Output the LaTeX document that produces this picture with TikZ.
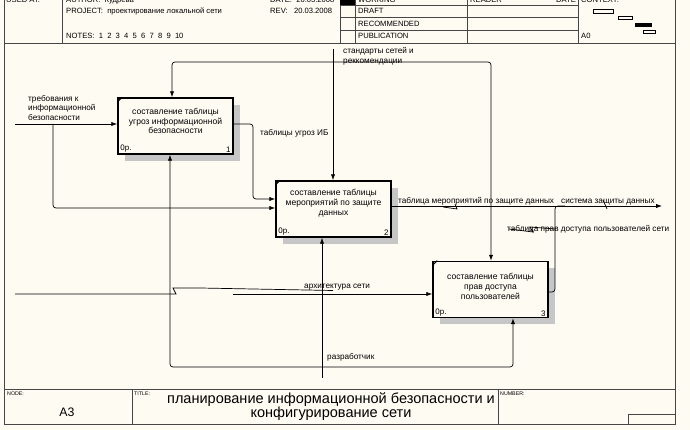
\documentclass[tikz,border=0pt]{standalone}
\usepackage{fontspec}
\setmainfont{Liberation Sans}
\usetikzlibrary{arrows.meta,calc,positioning,shadows}
\definecolor{paper}{RGB}{253,251,242}
\definecolor{frameline}{RGB}{70,70,70}
\newcommand{\pxl}{0.03cm}

\tikzset{
  actbox/.style={draw,line width=1.4pt,fill=paper,minimum width={115*\pxl},minimum height={56*\pxl},inner sep=0pt,
    drop shadow={shadow xshift=0.2cm,shadow yshift=-0.2cm,fill=gray!45,opacity=1}},
  boxtxt/.style={font=\fontsize{7.3}{8.4}\selectfont,align=center,inner sep=0pt},
  tag/.style={font=\fontsize{6.8}{8}\selectfont,inner sep=0pt},
  lbl/.style={font=\fontsize{7}{8.2}\selectfont,inner sep=0pt,align=left},
  hdr/.style={font=\fontsize{6.5}{7.5}\selectfont,inner sep=0pt,anchor=base west},
  tinyhd/.style={font=\fontsize{4.5}{5}\selectfont,inner sep=0pt,anchor=north west},
  flow/.style={line width=0.6pt,-{Latex[length=5pt,width=3.6pt]}},
  wire/.style={line width=0.6pt},
  frame/.style={line width=0.7pt,draw=frameline},
}

\begin{document}
\begin{tikzpicture}[x=\pxl,y=-\pxl]
  \useasboundingbox (0,0) rectangle (690,430);
  \clip (0,0) rectangle (690,430);
  \fill[paper] (0,0) rectangle (690,430);
  % frame and header grid
  \draw[frame] (4,-2) -- (4,424) -- (675,424) -- (675,-2);
  \draw[frame] (4,43) -- (675,43);
  \draw[frame] (4,389) -- (675,389);
  \foreach \xx in {62,340,355,467,578} \draw[frame] (\xx,-2) -- (\xx,43);
  \foreach \yy in {5,17,30} \draw[frame] (340,\yy) -- (578,\yy);
  \fill (340,-2) rectangle (355,5);
  \node[hdr] (usedat) at (6,2.5) {USED AT:};
  \node[hdr] (author) at (66,2.5) {AUTHOR: \ Кудрева};
  \node[hdr] (date) at (270,2.5) {DATE: \ 20.03.2008};
  \node[hdr] (working) at (358,2.5) {WORKING};
  \node[hdr] (reader) at (470,2.5) {READER};
  \node[hdr] (rdate) at (556,2.5) {DATE};
  \node[hdr] (context) at (581,2.5) {CONTEXT:};
  \node[hdr] (project) at (66,14) {PROJECT: \ проектирование локальной сети};
  \node[hdr] (rev) at (270,14) {REV: \ \ 20.03.2008};
  \node[hdr] (notes) at (66,39) {NOTES: \ 1 \ 2 \ 3 \ 4 \ 5 \ 6 \ 7 \ 8 \ 9 \ 10};
  \node[hdr] (draft) at (358,14) {DRAFT};
  \node[hdr] (recom) at (358,27) {RECOMMENDED};
  \node[hdr] (publ) at (358,39) {PUBLICATION};
  \node[hdr] (a0) at (581,39) {A0};
  % context thumbnails
  \draw[wire] (593,9) rectangle (613,13);
  \draw[wire] (618,16) rectangle (632,19);
  \fill (635,23) rectangle (652,27);
  \draw[wire] (643,30) rectangle (655,33);

  % activity boxes
  \node[actbox] (b1) at (175.5,126) {};
  \node[actbox] (b2) at (333.5,209) {};
  \node[actbox] (b3) at (490.5,289.5) {};
  \node[boxtxt] (t1) at ($(b1.center)+(0,-5)$) {составление таблицы\\угроз информационной\\безопасности};
  \node[boxtxt] (t2) at ($(b2.center)+(0,-5.5)$) {составление таблицы\\мероприятий по защите\\данных};
  \node[boxtxt] (t3) at ($(b3.center)+(0,-3)$) {составление таблицы\\прав доступа\\пользователей};
  \foreach \bx/\nn in {b1/1,b2/2,b3/3}{
    \draw[line width=0.8pt] ($(\bx.north west)+(0,5)$) -- ($(\bx.north west)+(5,0)$);
    \node[tag,anchor=south west] (\bx-rev) at ($(\bx.south west)+(3,-2)$) {0р.};
    \node[tag,anchor=south east] (\bx-num) at ($(\bx.south east)+(-3,-2)$) {\nn};
  }

  % inputs
  \coordinate (req) at (15,124);
  \draw[flow] (req) -- (req -| b1.west);
  \draw[flow,rounded corners=2.5pt] (53,124) -- (53,208) -- (b2.west |- 0,208);
  \node[lbl,anchor=north west] (reqlbl) at (28,95) {требования к\\информационной\\безопасности};
  \coordinate (arch) at (15,294);
  \draw[wire] (arch) -- (176,294) -- (173,288) -- (200,288) -- (333,290.5);
  \draw[flow] (233,294) -- (b3.west |- 0,294);
  \node[lbl,anchor=base west] (archlbl) at (304,288.5) {архитектура сети};

  % threat table 1 -> 2
  \draw[flow,rounded corners=2.5pt] (b1.east |- 0,124) -- (253,124) -- (253,199) -- (b2.west |- 0,199);
  \node[lbl,anchor=west] (thrlbl) at (260,133) {таблицы угроз ИБ};

  % controls
  \coordinate (std) at (333,49);
  \draw[flow] (std) -- (std |- b2.north);
  \draw[flow,rounded corners=2.5pt] (333,62) -| (b1.north -| 172,0);
  \draw[flow,rounded corners=2.5pt] (333,62) -| (b3.north -| 491,0);
  \node[lbl,anchor=north west] (stdlbl) at (343,47.5) {стандарты сетей и\\реккомендации};

  % outputs
  \coordinate (sysout) at (662,206);
  \draw[flow] (b2.east |- 0,206) -- (sysout);
  \draw[wire,rounded corners=2.5pt] (b3.east |- 0,292) -- (555,292) -- (555,206) -- (565,206);
  \node[lbl,anchor=base west] (meslbl) at (398,204) {таблица мероприятий по защите данных};
  \node[lbl,anchor=base west] (syslbl) at (561,204) {система защиты данных};
  \node[lbl,anchor=base west] (acclbl) at (507,232) {таблица прав доступа пользователей сети};
  % squiggles
  \draw[wire] (443,207) -- (457,209) -- (455,204);
  \draw[wire] (603,200) -- (607,209);
  \draw[wire] (509,229) -- (533,232) -- (530,227) -- (555,229);

  % mechanism
  \coordinate (dev) at (322,378);
  \draw[flow] (dev) -- (dev |- b2.south);
  \draw[flow,rounded corners=2.5pt] (322,367) -| (b1.south -| 170,0);
  \draw[flow,rounded corners=2.5pt] (322,367) -| (b3.south -| 513,0);
  \node[lbl,anchor=west] (devlbl) at (327,357) {разработчик};

  % footer
  \draw[frame] (132,389) -- (132,424);
  \draw[frame] (498,389) -- (498,424);
  \draw[frame] (628,424) |- (675,414);
  \node[tinyhd] (nodehd) at (7,392) {NODE:};
  \node[font=\fontsize{10.5}{12}\selectfont] (nodeid) at (67,412) {A3};
  \node[tinyhd] (titlehd) at (134,392) {TITLE:};
  \node[font=\fontsize{12.4}{12}\selectfont,align=center] (title) at (331,407) {планирование информационной безопасности и\\конфигурирование сети};
  \node[tinyhd] (numhd) at (500,392) {NUMBER:};
\end{tikzpicture}
\end{document}
